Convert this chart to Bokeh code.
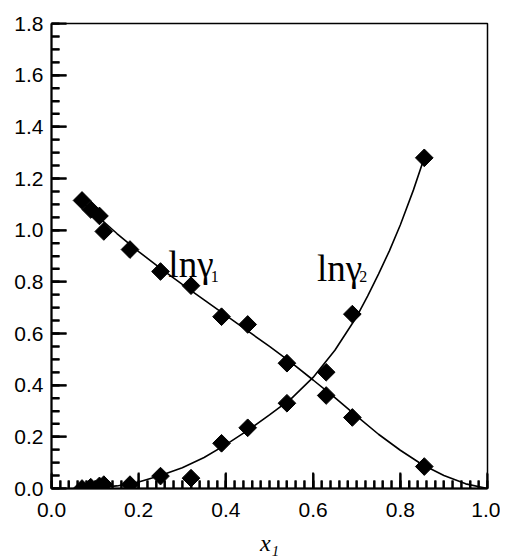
import numpy as np
from bokeh.plotting import figure
from bokeh.models import Range1d, FixedTicker, Label, ColumnDataSource
from bokeh.embed import file_html
from bokeh.resources import INLINE

# ---- data ----
x1_exp = [0.07, 0.09, 0.11, 0.12, 0.18, 0.25, 0.32, 0.39, 0.45, 0.54, 0.63, 0.69, 0.855]
ln_gamma1 = [1.115, 1.08, 1.055, 0.995, 0.925, 0.84, 0.785, 0.665, 0.635, 0.485, 0.36, 0.275, 0.085]
ln_gamma2 = [0.0, 0.005, 0.01, 0.015, 0.015, 0.048, 0.04, 0.175, 0.235, 0.33, 0.45, 0.675, 1.28]

# fitted curves
fit1_x = [0.07, 0.10, 0.15, 0.20, 0.25, 0.30, 0.35, 0.40, 0.45, 0.50, 0.55, 0.60, 0.65,
          0.70, 0.75, 0.80, 0.85, 0.90, 0.95, 1.00]
fit1_y = [1.11, 1.062, 0.987, 0.917, 0.852, 0.79, 0.73, 0.67, 0.61, 0.55, 0.487, 0.42, 0.352,
          0.28, 0.21, 0.148, 0.093, 0.05, 0.018, 0.0]
fit2_x = [0.07, 0.10, 0.15, 0.20, 0.25, 0.30, 0.35, 0.40, 0.45, 0.50, 0.55, 0.60, 0.65,
          0.70, 0.725, 0.75, 0.775, 0.80, 0.83, 0.855]
fit2_y = [0.0, 0.003, 0.01, 0.025, 0.05, 0.08, 0.12, 0.17, 0.225, 0.285, 0.348, 0.43, 0.535,
          0.665, 0.745, 0.83, 0.92, 1.02, 1.155, 1.28]

x_ticks = [0.0, 0.2, 0.4, 0.6, 0.8, 1.0]
x_tick_labels = ["0.0", "0.2", "0.4", "0.6", "0.8", "1.0"]
y_ticks = [0.0, 0.2, 0.4, 0.6, 0.8, 1.0, 1.2, 1.4, 1.6, 1.8]
y_tick_labels = ["0.0", "0.2", "0.4", "0.6", "0.8", "1.0", "1.2", "1.4", "1.6", "1.8"]
x_minor = [round(i * 0.02, 2) for i in range(51)]
y_minor = [round(i * 0.05, 2) for i in range(37)]

W, H = 500, 558
BL, BR, BT, BB = 51, 13, 23, 68
XMAX, YMAX = 1.0, 1.8
px_x = XMAX / (W - BL - BR)   # data units per pixel, x
px_y = YMAX / (H - BT - BB)   # data units per pixel, y

p = figure(width=W, height=H, output_backend="svg", toolbar_location=None,
           x_range=Range1d(0, XMAX), y_range=Range1d(0, YMAX),
           min_border_left=BL, min_border_right=BR, min_border_top=BT, min_border_bottom=BB)
p.background_fill_color = "white"
p.border_fill_color = "white"
p.grid.visible = False
p.outline_line_color = "black"
p.outline_line_width = 1.5
p.outline_line_alpha = 1.0

for ax, ticks, labels, minor in [(p.xaxis[0], x_ticks, x_tick_labels, x_minor),
                                  (p.yaxis[0], y_ticks, y_tick_labels, y_minor)]:
    ax.ticker = FixedTicker(ticks=ticks, minor_ticks=minor)
    ax.major_label_overrides = {t: l for t, l in zip(ticks, labels)}
    ax.axis_line_width = 2
    ax.axis_line_color = "black"
    ax.major_tick_in = 15
    ax.major_tick_out = 0
    ax.minor_tick_in = 8
    ax.minor_tick_out = 0
    ax.major_tick_line_width = 2
    ax.minor_tick_line_width = 2
    ax.major_tick_line_color = "black"
    ax.minor_tick_line_color = "black"
    ax.major_label_text_font = "Liberation Sans"
    ax.major_label_text_font_size = "21px"
    ax.major_label_text_color = "black"

p.xaxis.major_label_standoff = 14
p.yaxis.major_label_standoff = 8
p.xaxis.axis_label = "x₁"
p.xaxis.axis_label_text_font = "Liberation Serif"
p.xaxis.axis_label_text_font_style = "italic"
p.xaxis.axis_label_text_font_size = "24px"
p.xaxis.axis_label_text_color = "black"
p.xaxis.axis_label_standoff = 10

# inward ticks drawn as glyphs as well
tick_xs = [[t, t] for t in x_minor] + [[t, t] for t in x_ticks] + \
          [[0, 8 * px_x] for _ in y_minor] + [[0, 15 * px_x] for _ in y_ticks]
tick_ys = [[0, 8 * px_y] for _ in x_minor] + [[0, 16 * px_y] for _ in x_ticks] + \
          [[t, t] for t in y_minor] + [[t, t] for t in y_ticks]
p.multi_line(xs=tick_xs, ys=tick_ys, line_color="black", line_width=2)

p.line(fit1_x, fit1_y, line_color="black", line_width=1.6)
p.line(fit2_x, fit2_y, line_color="black", line_width=1.6)

src = ColumnDataSource(dict(x=x1_exp, g1=ln_gamma1, g2=ln_gamma2))
p.scatter("x", "g1", source=src, marker="square", size=12.5, angle=np.pi / 4,
          fill_color="black", line_color="black")
p.scatter("x", "g2", source=src, marker="square", size=12.5, angle=np.pi / 4,
          fill_color="black", line_color="black")

serif = "Liberation Serif"
p.add_layout(Label(x=0.268, y=0.867, text="lnγ", text_font=serif, text_font_size="37px",
                   text_baseline="alphabetic", text_align="left", text_color="black"))
p.add_layout(Label(x=0.365, y=0.821, text="1", text_font=serif, text_font_size="16px",
                   text_baseline="alphabetic", text_align="left", text_color="black"))
p.add_layout(Label(x=0.609, y=0.852, text="lnγ", text_font=serif, text_font_size="37px",
                   text_baseline="alphabetic", text_align="left", text_color="black"))
p.add_layout(Label(x=0.706, y=0.821, text="2", text_font=serif, text_font_size="16px",
                   text_baseline="alphabetic", text_align="left", text_color="black"))

open("out.html", "w").write(file_html(p, INLINE))
